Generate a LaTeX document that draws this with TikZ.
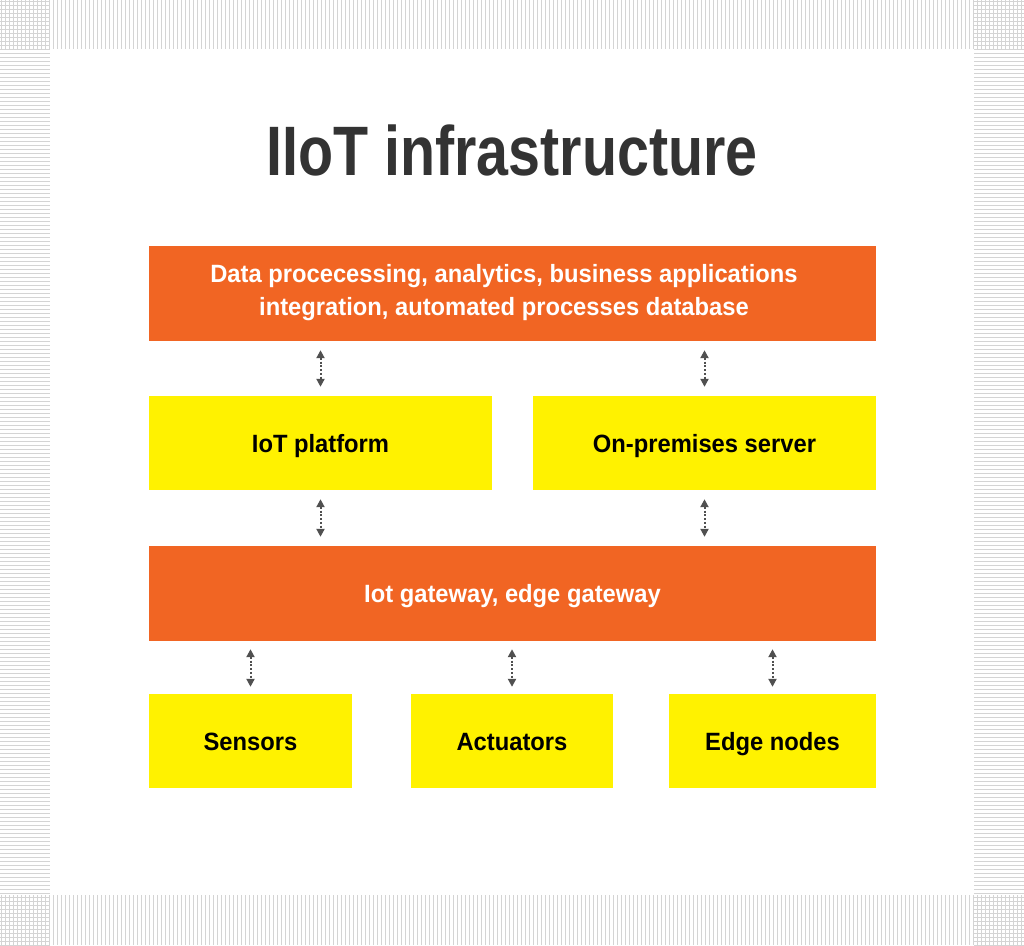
\documentclass[tikz,border=0pt]{standalone}
\usepackage{fontspec}
\newfontfamily\cond{Liberation Sans}[FakeStretch=0.95]
\newfontfamily\condt{Liberation Sans}[FakeStretch=0.82]
\usetikzlibrary{arrows.meta}
\definecolor{iorange}{RGB}{241,101,35}
\definecolor{iyellow}{RGB}{255,242,0}
\definecolor{ititle}{RGB}{51,51,51}
\definecolor{stripe}{RGB}{212,212,212}
\definecolor{linkc}{RGB}{80,80,80}
\tikzset{
  boxfont/.style={font=\cond\bfseries\fontsize{25}{33}\selectfont, align=center, inner sep=0pt},
  obox/.style={fill=iorange, draw=none, text=white, boxfont},
  ybox/.style={fill=iyellow, draw=none, text=black, boxfont},
  lbl/.style={boxfont, text height=18pt, text depth=0pt},
  link/.style={draw=linkc, line width=2pt, dash pattern=on 2pt off 1.8pt, {Triangle[width=8pt,length=8pt]}-{Triangle[width=8pt,length=8pt]}},
  stripeline/.style={draw=stripe, line width=1.8pt}
}
\begin{document}
\begin{tikzpicture}[x=1pt,y=-1pt]
\useasboundingbox (0,0) rectangle (1024,945);
\fill[white] (0,0) rectangle (1024,945);
% stripes: top and bottom bands (vertical lines)
\foreach \i in {0,...,255} {
  \draw[stripeline] ({\i*4+1.5},0) -- ({\i*4+1.5},49);
  \draw[stripeline] ({\i*4+1.5},895) -- ({\i*4+1.5},945);
}
% left and right bands (horizontal lines)
\foreach \j in {0,...,236} {
  \draw[stripeline] (0,{\j*4+1.5}) -- (50,{\j*4+1.5});
  \draw[stripeline] (974,{\j*4+1.5}) -- (1024,{\j*4+1.5});
}
\fill[white] (50,49) rectangle (974,895);
% title
\node[text=ititle, font=\condt\bfseries\fontsize{70}{80}\selectfont, inner sep=0pt, text height=50pt, text depth=0pt] (title) at (512,150) {IIoT infrastructure};
% boxes
\node[obox, minimum width=727pt, minimum height=95pt] (top) at (512.5,293.5) {};
\node[boxfont, text=white] (toptext) at (504,293) {Data procecessing, analytics, business applications\\integration, automated processes database};
\node[ybox, minimum width=343pt, minimum height=94pt] (iot) at (320.5,443) {};
\node[lbl] at (iot) {IoT platform};
\node[ybox, minimum width=343pt, minimum height=94pt] (srv) at (704.5,443) {};
\node[lbl] at (srv) {On-premises server};
\node[obox, minimum width=727pt, minimum height=95pt] (gw) at (512.5,593.5) {};
\node[lbl, text=white] at (gw) {Iot gateway, edge gateway};
\node[ybox, minimum width=203pt, minimum height=94pt] (sen) at (250.5,741) {};
\node[lbl] at (sen) {Sensors};
\node[ybox, minimum width=202pt, minimum height=94pt] (act) at (512,741) {};
\node[lbl] at (act) {Actuators};
\node[ybox, minimum width=207pt, minimum height=94pt] (edge) at (772.5,741) {};
\node[lbl] at (edge) {Edge nodes};
% connectors
\draw[link] ([yshift=-9pt]top.south -| iot.north) -- ([yshift=9pt]iot.north);
\draw[link] ([yshift=-9pt]top.south -| srv.north) -- ([yshift=9pt]srv.north);
\draw[link] ([yshift=-9pt]iot.south) -- ([yshift=9pt]gw.north -| iot.south);
\draw[link] ([yshift=-9pt]srv.south) -- ([yshift=9pt]gw.north -| srv.south);
\draw[link] ([yshift=-8pt]gw.south -| sen.north) -- ([yshift=7pt]sen.north);
\draw[link] ([yshift=-8pt]gw.south -| act.north) -- ([yshift=7pt]act.north);
\draw[link] ([yshift=-8pt]gw.south -| edge.north) -- ([yshift=7pt]edge.north);
\end{tikzpicture}
\end{document}
